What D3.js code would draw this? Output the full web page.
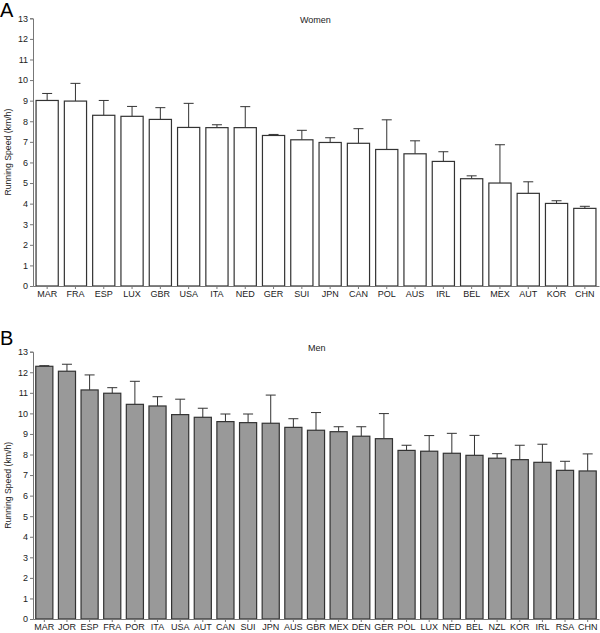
<!DOCTYPE html>
<html><head><meta charset="utf-8">
<script src="https://cdn.jsdelivr.net/npm/d3@7"></script>
<style>body{margin:0;background:#fff}svg{display:block;font-family:"Liberation Sans",Arial,sans-serif}</style>
</head><body>
<svg id="c" width="600" height="633"></svg>
<script>
const womenCountries = ["MAR","FRA","ESP","LUX","GBR","USA","ITA","NED","GER","SUI","JPN","CAN","POL","AUS","IRL","BEL","MEX","AUT","KOR","CHN"];
const womenMeans = [9.01,8.98,8.29,8.24,8.09,7.70,7.69,7.69,7.31,7.10,6.97,6.93,6.63,6.42,6.05,5.21,5.00,4.50,4.01,3.77];
const womenUpper = [9.35,9.84,9.01,8.72,8.66,8.87,7.83,8.71,7.36,7.56,7.20,7.64,8.07,7.05,6.52,5.35,6.86,5.06,4.14,3.87];

const menCountries = ["MAR","JOR","ESP","FRA","POR","ITA","USA","AUT","CAN","SUI","JPN","AUS","GBR","MEX","DEN","GER","POL","LUX","NED","BEL","NZL","KOR","IRL","RSA","CHN"];
const menMeans = [12.29,12.05,11.14,10.98,10.44,10.36,9.94,9.81,9.60,9.55,9.52,9.32,9.18,9.11,8.89,8.77,8.20,8.16,8.06,7.96,7.82,7.75,7.62,7.23,7.20];
const menUpper = [12.32,12.39,11.87,11.25,11.56,10.81,10.69,10.25,9.97,9.97,10.89,9.74,10.04,9.35,9.35,9.99,8.45,8.92,9.03,8.93,8.04,8.45,8.50,7.67,8.03];

const yTicks = d3.range(0,14);
const svg = d3.select("#c");

function panel(opts){
  const g = svg.append("g");
  const x = d3.scaleBand().domain(opts.cats).range([33,599]).paddingInner(opts.pad).paddingOuter(opts.pad/2);
  const y = d3.scaleLinear().domain([0,13]).range([opts.y0, opts.y1]);
  const data = opts.cats.map((c,i)=>({c, m:opts.means[i], u:opts.upper[i]}));
  g.selectAll(".err").data(data).enter().append("line")
    .attr("x1",d=>x(d.c)+x.bandwidth()/2).attr("x2",d=>x(d.c)+x.bandwidth()/2)
    .attr("y1",d=>y(d.m)).attr("y2",d=>y(d.u)).attr("stroke","#333").attr("stroke-width",1);
  g.selectAll(".cap").data(data).enter().append("line")
    .attr("x1",d=>x(d.c)+x.bandwidth()/2-5).attr("x2",d=>x(d.c)+x.bandwidth()/2+5)
    .attr("y1",d=>y(d.u)).attr("y2",d=>y(d.u)).attr("stroke","#333").attr("stroke-width",1);
  g.selectAll(".bar").data(data).enter().append("rect")
    .attr("x",d=>x(d.c)+0.5).attr("width",x.bandwidth()-1)
    .attr("y",d=>y(d.m)).attr("height",d=>y(0)-y(d.m))
    .attr("fill",opts.fill).attr("stroke","#333").attr("stroke-width",1.2);
  const ya = g.append("g").attr("transform","translate(33,0)")
    .call(d3.axisLeft(y).tickValues(yTicks).tickSize(3).tickPadding(2));
  ya.select(".domain").attr("stroke","#777");
  ya.selectAll(".tick line").attr("stroke","#777");
  ya.selectAll("text").attr("font-size",9).attr("fill","#222").attr("font-family","Liberation Sans, Arial, sans-serif");
  const xa = g.append("g").attr("transform",`translate(0,${opts.y0})`)
    .call(d3.axisBottom(x).tickSize(3).tickPadding(2).tickSizeOuter(0));
  xa.select(".domain").attr("stroke","#777");
  xa.selectAll(".tick line").attr("stroke","#777");
  xa.selectAll("text").attr("font-size",9).attr("fill","#222").attr("font-family","Liberation Sans, Arial, sans-serif");
  g.append("text").attr("x",11).attr("y",(opts.y0+opts.y1)/2).attr("transform",`rotate(-90,11,${(opts.y0+opts.y1)/2})`)
    .attr("text-anchor","middle").attr("font-size",8.7).attr("fill","#222").text("Running Speed (km/h)");
  g.append("text").attr("x",opts.tx).attr("y",opts.ty).attr("font-size",9).attr("fill","#222").text(opts.title);
  g.append("text").attr("x",0).attr("y",opts.ly).attr("font-size",20).attr("fill","#000").text(opts.letter);
}

panel({cats:womenCountries, means:womenMeans, upper:womenUpper, fill:"#fff", pad:0.18, y0:286, y1:18.3, title:"Women", tx:300, ty:23, letter:"A", ly:17});
panel({cats:menCountries, means:menMeans, upper:menUpper, fill:"#999", pad:0.2, y0:619, y1:351.7, title:"Men", tx:308, ty:351, letter:"B", ly:345});
</script>
</body></html>
